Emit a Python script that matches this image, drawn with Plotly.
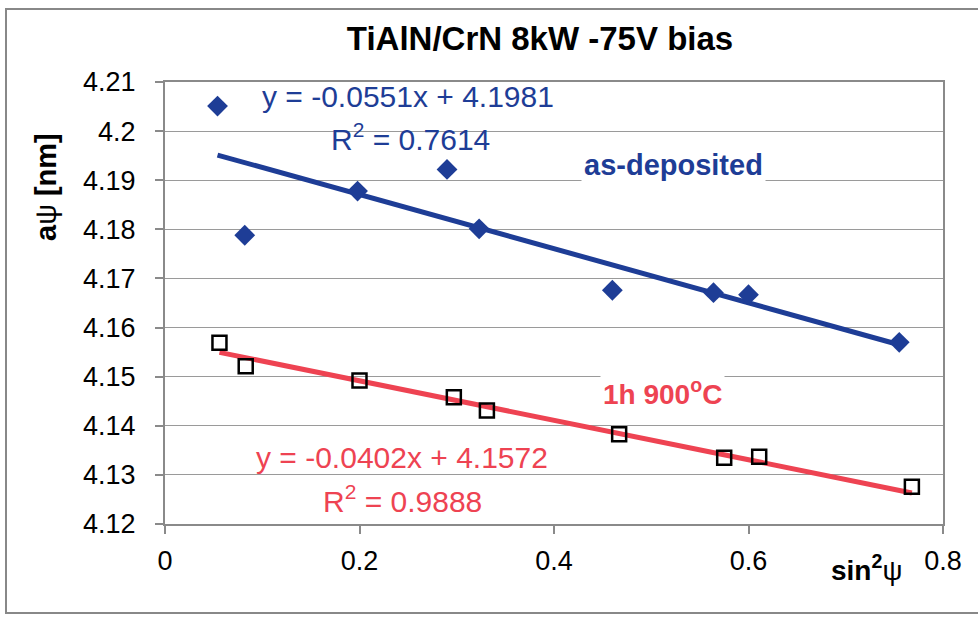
import plotly.graph_objects as go

# ---- data ----
asdep_x = [0.054, 0.082, 0.198, 0.290, 0.323, 0.460, 0.564, 0.600, 0.755]
asdep_y = [4.2051, 4.1788, 4.1878, 4.1922, 4.1801, 4.1676, 4.1671, 4.1667, 4.1570]
heat_x = [0.056, 0.083, 0.200, 0.297, 0.331, 0.467, 0.575, 0.611, 0.768]
heat_y = [4.1569, 4.1521, 4.1492, 4.1458, 4.1431, 4.1383, 4.1335, 4.1337, 4.1276]

asdep_slope, asdep_intercept, asdep_r2 = -0.0551, 4.1981, 0.7614
heat_slope, heat_intercept, heat_r2 = -0.0402, 4.1572, 0.9888

x_ticks = [0, 0.2, 0.4, 0.6, 0.8]
x_tick_labels = ["0", "0.2", "0.4", "0.6", "0.8"]
y_ticks = [4.12, 4.13, 4.14, 4.15, 4.16, 4.17, 4.18, 4.19, 4.20, 4.21]
y_tick_labels = ["4.12", "4.13", "4.14", "4.15", "4.16", "4.17", "4.18", "4.19", "4.2", "4.21"]

BLUE = "#1e3d96"
RED = "#ee4352"
FONT = "Liberation Sans, Arial, sans-serif"

def trend(xs, m, b):
    x0, x1 = min(xs), max(xs)
    return [x0, x1], [m * x0 + b, m * x1 + b]

fig = go.Figure()

tx, ty = trend(asdep_x, asdep_slope, asdep_intercept)
fig.add_trace(go.Scatter(x=tx, y=ty, mode="lines", line=dict(color=BLUE, width=5), showlegend=False, hoverinfo="skip"))
tx, ty = trend(heat_x, heat_slope, heat_intercept)
fig.add_trace(go.Scatter(x=tx, y=ty, mode="lines", line=dict(color=RED, width=5), showlegend=False, hoverinfo="skip"))

fig.add_trace(go.Scatter(x=asdep_x, y=asdep_y, mode="markers", name="as-deposited",
                         marker=dict(symbol="diamond", size=16, color=BLUE, line=dict(width=0)), showlegend=False))
fig.add_trace(go.Scatter(x=heat_x, y=heat_y, mode="markers", name="1h 900°C",
                         marker=dict(symbol="square-open", size=14, color="black", line=dict(width=2.5, color="black")), showlegend=False))

# plot-area geometry (pixels) used only for placing paper-referenced labels
L, R, T, B = 165, 943, 82, 524
W, H = R - L, B - T
def px(x):
    return (x - L) / W
def py(y):
    return (B - y) / H

ann = [
    dict(text="y = %.4fx + %.4f" % (asdep_slope, asdep_intercept), x=px(408), y=py(96), color=BLUE, size=30, bg=None),
    dict(text="R<sup>2</sup> = %.4f" % asdep_r2, x=px(410), y=py(137), color=BLUE, size=30, bg=None),
    dict(text="y = %.4fx + %.4f" % (heat_slope, heat_intercept), x=px(402), y=py(457), color=RED, size=30, bg=None),
    dict(text="R<sup>2</sup> = %.4f" % heat_r2, x=px(402), y=py(499), color=RED, size=30, bg=None),
    dict(text="<b>as-deposited</b>", x=px(673), y=py(165), color=BLUE, size=29, bg="white"),
    dict(text="<b>1h 900<sup>o</sup>C</b>", x=px(662), y=py(392), color=RED, size=28, bg="white"),
    dict(text="<b>sin<sup>2</sup></b>ψ", x=px(866), y=py(568), color="black", size=28, bg=None),
]
for a in ann:
    fig.add_annotation(text=a["text"], x=a["x"], y=a["y"], xref="paper", yref="paper",
                       showarrow=False, xanchor="center", yanchor="middle",
                       font=dict(family=FONT, size=a["size"], color=a["color"]),
                       bgcolor=a["bg"] if a["bg"] else "rgba(0,0,0,0)", borderpad=2)

# y axis title
fig.add_annotation(text="<b>a</b>ψ<b> [nm]</b>", x=px(46), y=py(187), xref="paper", yref="paper",
                   showarrow=False, textangle=-90, xanchor="center", yanchor="middle",
                   font=dict(family=FONT, size=29, color="black"))

# outer chart border
fig.add_shape(type="rect", xref="paper", yref="paper", x0=px(6), x1=px(990), y0=py(613), y1=py(9),
              line=dict(color="#888888", width=2), fillcolor="rgba(0,0,0,0)", layer="below")

fig.update_layout(
    width=978, height=617,
    margin=dict(l=L, r=978 - R, t=T, b=617 - B),
    paper_bgcolor="white", plot_bgcolor="white",
    title=dict(text="<b>TiAlN/CrN 8kW -75V bias</b>", xref="container", x=540 / 978, xanchor="center",
               yref="container", y=1 - 38 / 617, yanchor="middle",
               font=dict(family=FONT, size=33, color="black")),
    font=dict(family=FONT, color="black"),
)
fig.update_xaxes(range=[0, 0.8], tickvals=x_ticks, ticktext=x_tick_labels, showgrid=False,
                 showline=True, linecolor="#8a8a8a", linewidth=2, mirror=True,
                 ticks="outside", ticklen=8, tickcolor="#8a8a8a", tickwidth=1.5,
                 tickfont=dict(family=FONT, size=27, color="black"), ticklabelstandoff=4, zeroline=False)
fig.update_yaxes(range=[4.12, 4.21], tickvals=y_ticks, ticktext=y_tick_labels, showgrid=True,
                 gridcolor="#9a9a9a", gridwidth=1,
                 showline=True, linecolor="#8a8a8a", linewidth=2, mirror=True,
                 ticks="outside", ticklen=8, tickcolor="#8a8a8a", tickwidth=1.5,
                 tickfont=dict(family=FONT, size=27, color="black"), ticklabelstandoff=14, zeroline=False)

fig.write_html("out.html", config={"displayModeBar": False},
               post_script="document.body.style.margin='0';")
